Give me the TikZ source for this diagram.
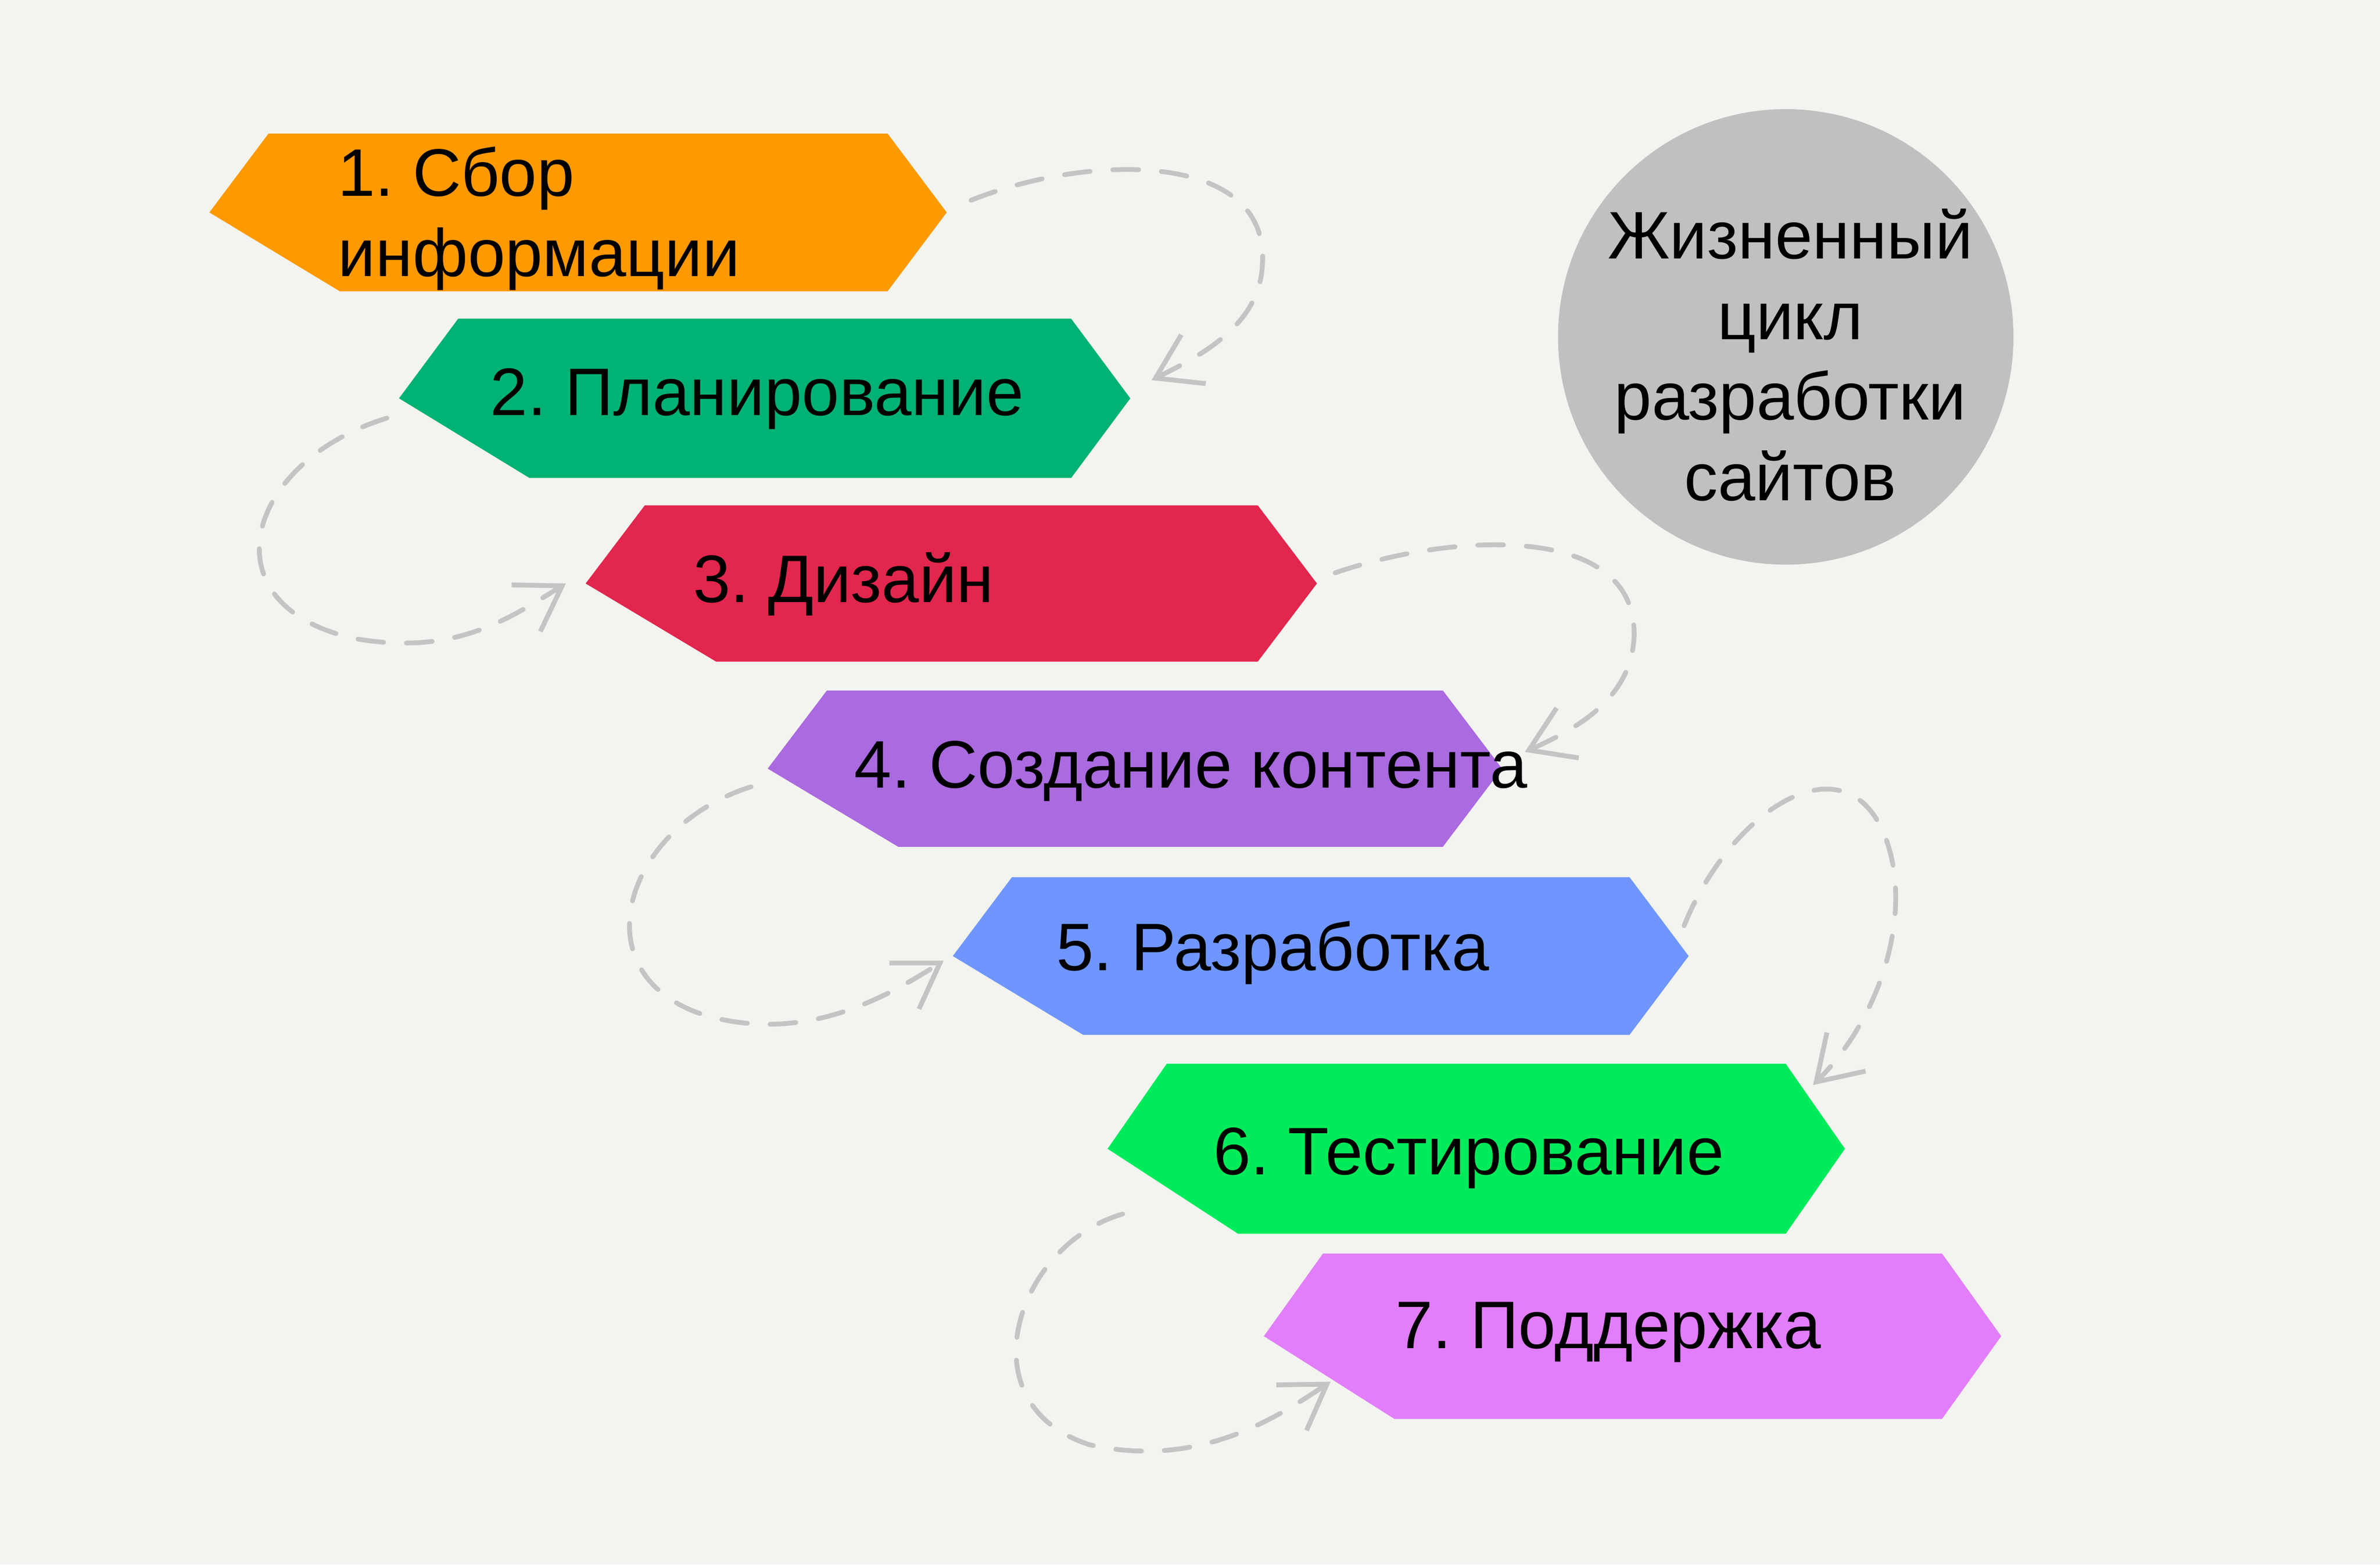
\documentclass[tikz,border=0pt]{standalone}
\usepackage{fontspec}
\setmainfont{Liberation Sans}
\frenchspacing
\usetikzlibrary{arrows.meta,calc}
\definecolor{bg}{HTML}{F3F4F0}
\definecolor{c1}{HTML}{FF9900}
\definecolor{c2}{HTML}{00B274}
\definecolor{c3}{HTML}{E2264D}
\definecolor{c4}{HTML}{AA6AE0}
\definecolor{c5}{HTML}{6F96FF}
\definecolor{c6}{HTML}{00EB5A}
\definecolor{c7}{HTML}{E27EFB}
\definecolor{circ}{HTML}{C0C0C0}
\definecolor{arrowgray}{HTML}{C4C4C4}
\newcommand\stagebox[6]{%
  \coordinate (#1L) at (#2,{(#4+#5)/2});
  \coordinate (#1R) at (#3,{(#4+#5)/2});
  \fill[#6] (#1L) -- (#2+39,#4) -- (#3-39,#4) -- (#1R) -- (#3-39,#5) -- (#2+86,#5) -- cycle;
}
\tikzset{
  label/.style={font=\fontsize{12.6}{15.1}\selectfont, text=black, inner sep=0pt},
  flow/.style={draw=arrowgray, line width=0.9pt, line cap=round,
    dash pattern=on 0.17cm off 0.15cm,
    -{Straight Barb[length=0.28cm,width=0.36cm,line width=0.9pt]}}
}
\begin{document}
\begin{tikzpicture}[x=0.01cm,y=-0.01cm]
\fill[bg] (0,0) rectangle (1568.7,1031);
\useasboundingbox (0,0) rectangle (1568.7,1031);
% stages
\stagebox{s1}{138}{624}{88}{192}{c1}
\stagebox{s2}{263}{745}{210}{315}{c2}
\stagebox{s3}{386}{868}{333}{436}{c3}
\stagebox{s4}{506}{990}{455}{558}{c4}
\stagebox{s5}{628}{1113}{578}{682}{c5}
\stagebox{s6}{730}{1216}{701}{813}{c6}
\stagebox{s7}{833}{1319}{826}{935}{c7}
\node[label, anchor=west, align=left] (t1) at (222,144) {1. Сбор\\информации};
\node[label] (t2) at (499,263) {2. Планирование};
\node[label] (t3) at (556,385) {3. Дизайн};
\node[label] (t4) at (785,508) {4. Создание контента};
\node[label] (t5) at (839,628) {5. Разработка};
\node[label] (t6) at (968,763) {6. Тестирование};
\node[label] (t7) at (1060,878) {7. Поддержка};
% title circle
\node[circle, fill=circ, minimum size=3cm, inner sep=0pt] (c) at (1177,222) {};
\node[label, align=center] (ct) at (1180,234) {Жизненный\\цикл\\разработки\\сайтов};
% connector end points
\coordinate (a1s) at ($(s1R)+(16,-8)$);
\coordinate (a1e) at ($(s2R)+(14,-12)$);
\coordinate (a2s) at ($(s2L)+(-8,13)$);
\coordinate (a2e) at ($(s3L)+(-13,0)$);
\coordinate (a3s) at ($(s3R)+(12,-7)$);
\coordinate (a3e) at ($(s4R)+(15,-11)$);
\coordinate (a4s) at ($(s4L)+(-11,12)$);
\coordinate (a4e) at ($(s5L)+(-6,3)$);
\coordinate (a5s) at ($(s5R)+(-3,-20)$);
\coordinate (a5e) at ($(s6R)+(-21,-42)$);
\coordinate (a6s) at ($(s6L)+(10,43)$);
\coordinate (a6e) at ($(s7L)+(44,30)$);
% connectors
\draw[flow] (a1s) .. controls (720,100) and (838,100) .. (832,175) .. controls (830,215) and (790,235) .. (a1e);
\draw[flow] (a2s) .. controls (160,305) and (135,400) .. (235,421) .. controls (300,432) and (335,408) .. (a2e);
\draw[flow] (a3s) .. controls (960,350) and (1080,345) .. (1077,420) .. controls (1075,460) and (1040,480) .. (a3e);
\draw[flow] (a4s) .. controls (410,545) and (380,645) .. (468,670) .. controls (530,686) and (580,660) .. (a4e);
\draw[flow] (a5s) .. controls (1140,535) and (1215,485) .. (1242,550) .. controls (1262,600) and (1240,670) .. (a5e);
\draw[flow] (a6s) .. controls (670,820) and (635,925) .. (718,952) .. controls (790,968) and (840,935) .. (a6e);
\end{tikzpicture}
\end{document}
